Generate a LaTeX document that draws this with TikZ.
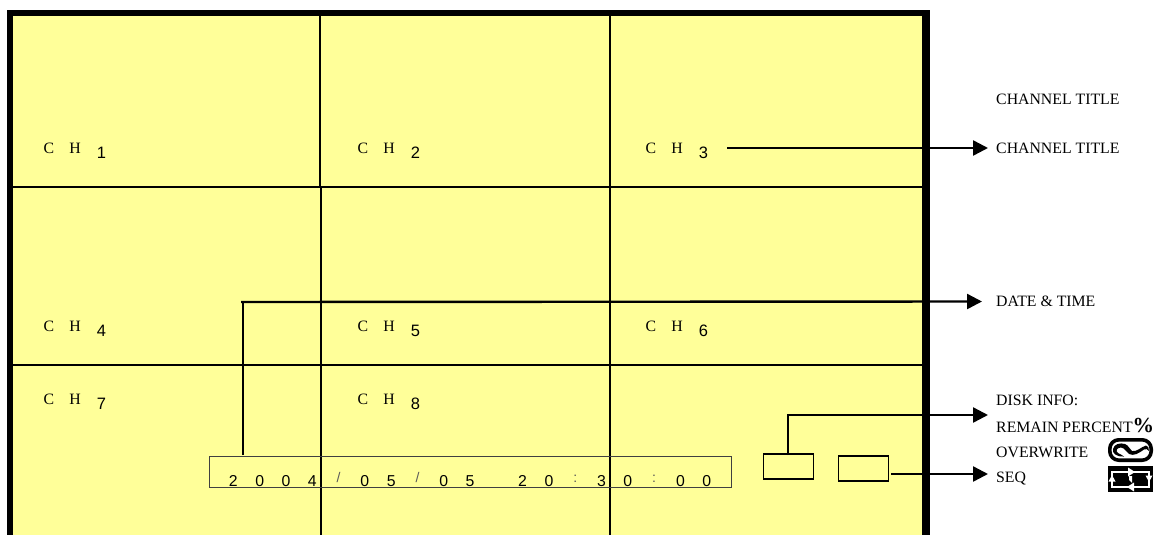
\documentclass[tikz,border=0pt]{standalone}
\usepackage{fontspec}
\setmainfont{Liberation Serif}
\newfontfamily\digitfont{Liberation Sans}
\usetikzlibrary{arrows.meta}
\definecolor{screenyellow}{RGB}{255,255,153}
\newcommand{\cell}[1]{\makebox[26.3pt][c]{#1}}
\newcommand{\dcell}[1]{\makebox[26.3pt][c]{\digitfont #1}}
\newcommand{\chlabel}[1]{\cell{C}\cell{H}\raisebox{-4.5pt}{\dcell{\fontsize{16.5}{18}\selectfont #1}}}
\newcommand{\sepmark}[1]{\dcell{\raisebox{4pt}{\textcolor{black!65}{\fontsize{14}{15}\selectfont #1}}}}
\tikzset{
  x=1pt,y=-1pt,
  gridline/.style={black,line width=1.7pt},
  conn/.style={black,line width=2.4pt},
  arrowconn/.style={conn,-{Triangle[length=15pt,width=15pt]}},
  chtext/.style={anchor=base west,inner sep=0pt,font=\fontsize{15.8}{18}\selectfont},
  sidetext/.style={anchor=base west,inner sep=0pt,font=\fontsize{15.8}{18}\selectfont},
  infobox/.style={draw=black,line width=1.8pt,minimum width=50pt,minimum height=25pt,inner sep=0pt},
}
\begin{document}
\begin{tikzpicture}
\useasboundingbox (0,0) rectangle (1156,535);
\fill[white] (0,0) rectangle (1156,535);
% screen
\fill[screenyellow] (13,16) rectangle (922,535);
\fill[black] (7,10) rectangle (930,16);
\fill[black] (7,10) rectangle (13,535);
\fill[black] (922,10) rectangle (930,535);
% grid
\draw[gridline] (320,16) -- (320,187) (321,187) -- (321,535);
\draw[gridline] (610,16) -- (610,535);
\draw[gridline] (13,187) -- (922,187);
\draw[gridline] (13,365) -- (922,365);
% channel labels
\node[chtext] (ch1) at (35.5,153.5) {\chlabel{1}};
\node[chtext] (ch2) at (349.5,153.5) {\chlabel{2}};
\node[chtext] (ch3) at (637.5,153.5) {\chlabel{3}};
\node[chtext] (ch4) at (35.5,331.5) {\chlabel{4}};
\node[chtext] (ch5) at (349.5,331.5) {\chlabel{5}};
\node[chtext] (ch6) at (637.5,331.5) {\chlabel{6}};
\node[chtext] (ch7) at (35.5,404.5) {\chlabel{7}};
\node[chtext] (ch8) at (349.5,404.5) {\chlabel{8}};
% date box
\node[draw=black!75,line width=1pt,minimum width=522pt,minimum height=31pt,inner sep=0pt] (datebox) at (470.5,471.5) {};
\node[chtext] (datetext) at (220,486) {\dcell{2}\dcell{0}\dcell{0}\dcell{4}\sepmark{/}\dcell{0}\dcell{5}\sepmark{/}\dcell{0}\dcell{5}\dcell{\ }\dcell{2}\dcell{0}\sepmark{:}\dcell{3}\dcell{0}\sepmark{:}\dcell{0}\dcell{0}};
% small boxes
\node[infobox] (diskbox) at (788.5,466.5) {};
\node[infobox] (seqbox) at (863.5,468.5) {};
% side labels
\node[sidetext] (title1) at (996,104) {CHANNEL TITLE};
\node[sidetext] (title2) at (996,153) {CHANNEL TITLE};
\node[sidetext] (datelabel) at (996,306) {DATE \& TIME};
\node[sidetext] (disklabel) at (996,405) {DISK INFO:};
\node[sidetext] (remainlabel) at (996,432) {REMAIN PERCENT{\fontsize{21.5}{24}\selectfont\bfseries\%}};
\node[sidetext] (overlabel) at (996,457) {OVERWRITE};
\node[sidetext] (seqlabel) at (996,482) {SEQ};
% connector end points
\coordinate (ch3start) at (727,148);
\coordinate (title2tip) at (988,148);
\coordinate (datetick) at (243,455);
\coordinate (datecorner) at (241,302);
\coordinate (datetip) at (982,301.5);
\coordinate (disktop) at (788,455);
\coordinate (disktip) at (988,415);
\coordinate (seqstart) at (891,474);
\coordinate (seqtip) at (988,474);
% connectors
\draw[arrowconn] (ch3start) -- (title2tip);
\draw[conn] (datetick) -- (243,302);
\draw[arrowconn] (datecorner) -- (datetip);
\draw[arrowconn] (disktop) |- (disktip);
\draw[arrowconn] (seqstart) -- (seqtip);
% overwrite icon
\draw[black,line width=3.6pt,rounded corners=9pt,fill=white] (1109.8,439.8) rectangle (1151.2,460.2);
\fill[black] (1124,456.5) .. controls (1116,457) and (1112,453) .. (1113,449)
  .. controls (1114,444) and (1120,442.5) .. (1125,444)
  .. controls (1129,445.5) and (1129,449) .. (1132,451)
  .. controls (1136,452.5) and (1141,447) .. (1146,445.5)
  .. controls (1148,445.5) and (1149,448) .. (1149,451)
  .. controls (1147.5,449) and (1146,448.5) .. (1144,449.5)
  .. controls (1139,453) and (1134,456.5) .. (1129,454)
  .. controls (1126,452) and (1125,448) .. (1121,447.5)
  .. controls (1117,447.5) and (1115,451) .. (1118,453)
  .. controls (1120,454.5) and (1122,454.5) .. (1124,456.5) -- cycle;
% seq icon
\fill[black] (1108,466) rectangle (1153,492);
\draw[white,line width=1.4pt] (1112,472) rectangle (1149,487);
\fill[white] (1128,467.5) -- (1135,472) -- (1128,476.5) -- cycle;
\fill[white] (1134,482.5) -- (1127,487) -- (1134,491.5) -- cycle;
\fill[white] (1108.5,481.5) -- (1112,475) -- (1115.5,481.5) -- cycle;
\fill[white] (1145.5,475.5) -- (1149,482) -- (1152.5,475.5) -- cycle;
\fill[white] (1129,476) -- (1132,476) -- (1132,483) -- (1129,480) -- cycle;
\end{tikzpicture}
\end{document}
